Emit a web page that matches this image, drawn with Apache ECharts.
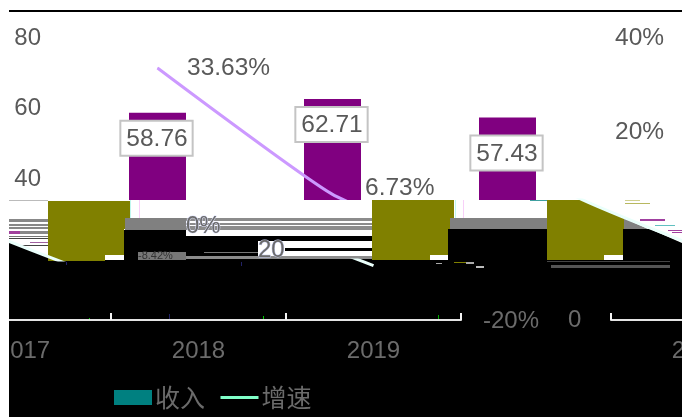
<!DOCTYPE html>
<html>
<head>
<meta charset="utf-8">
<title>收入 增速</title>
<script src="https://cdn.jsdelivr.net/npm/echarts@6/dist/echarts.min.js"></script>
<style>
  html, body { margin: 0; padding: 0; background: #fff; }
  #chart { width: 682px; height: 417px; }
</style>
</head>
<body>
<div id="chart"></div>
<script>
  // data (the 2019 growth value is hidden in the picture, estimated)
  var years = ['2017', '2018', '2019'];
  var income = [58.76, 62.71, 57.43];
  var growth = [33.63, 6.73, -8.42];
  var leftTicks = [0, 20, 40, 60, 80];
  var rightTicks = [-20, 0, 20, 40];

  var plotTop = 38, plotBottom = 320, plotLeft = 70, plotWidth = 525;
  var font = 'Liberation Sans, Arial, sans-serif';
  var textColor = '#595959';
  var rightScale = (plotBottom - plotTop) / 60;

  // the lower part of the picture is a broken render: rows of the chart are shifted sideways
  // and painted over with flat blocks. these are decoration, not chart marks
  var blocks = [
    [9, 200, 673, 60, '#fff'], [9, 260, 673, 157, '#000'],
    // left stripes
    [9, 200, 39, 1, '#bbb'], [9, 219, 39, 3, '#888'], [9, 224, 39, 2, '#888'], [9, 227, 39, 2, '#888'],
    [9, 231, 11, 3, '#a0409c'], [20, 231, 28, 3, '#888'], [9, 236, 39, 1, '#777'], [9, 238, 39, 1, '#444'],
    [30, 242, 18, 1, '#a060a0'], [20, 245, 28, 1, '#444'],
    // block A and what follows it
    [125, 218, 61, 12, '#808080'], [124, 230, 62, 30, '#000'], [138, 252, 66, 8, '#777'],
    // middle stripes
    [186, 218, 186, 3, '#8c8c8c'], [186, 223, 186, 2, '#8c8c8c'], [186, 226, 186, 2, '#8c8c8c'], [186, 228, 186, 2, '#8c8c8c'],
    [186, 236, 186, 5, '#000'], [186, 241, 72, 15, '#000'], [285, 248, 87, 3, '#000'],
    [204, 252, 54, 1, '#777'], [186, 256, 186, 3, '#8c8c8c'], [186, 259, 186, 1, '#000'],
    // block B
    [450, 218, 97, 11, '#808080'], [448, 229, 99, 31, '#000'],
    [463, 200, 1, 18, '#f8d0f8'], [139, 200, 1, 18, '#f8d0f8'], [130, 200, 1, 18, '#c0f8f0'], [455, 200, 1, 18, '#c0f8f0'],
    [530, 200, 35, 1, '#40a0a0'],
    // right side stripes
    [625, 203, 25, 1, '#b8b860'], [625, 200, 15, 1, '#d0d090'], [640, 219, 25, 2, '#a040a0'],
    [655, 225, 20, 1, '#60c0c0'], [668, 230, 14, 1, '#a040a0'], [672, 232, 10, 1, '#a040a0'],
    [547, 261, 123, 1, '#444'], [551, 265, 119, 3, '#555'],
    // specks
    [454, 262, 12, 1, '#808000'], [466, 262, 8, 2, '#aaa'], [476, 266, 8, 2, '#bbb'], [436, 263, 6, 1, '#aaa'],
    [89, 318, 1, 3, '#0c0'], [263, 316, 1, 5, '#0c0'], [438, 315, 1, 6, '#0a0'],
    [169, 314, 1, 7, '#226'], [241, 262, 1, 4, '#226'], [66, 262, 1, 3, '#226']
  ];
  var oliveBlocks = [
    [[48, 201], [130, 201], [130, 218], [125, 218], [125, 229], [124, 229], [124, 255], [105, 255], [105, 261], [48, 261]],
    [[372, 200], [454, 200], [454, 218], [450, 218], [450, 229], [448, 229], [448, 255], [430, 255], [430, 260], [372, 260]],
    [[547, 200], [585, 200], [624, 218], [624, 229], [623, 229], [623, 255], [604, 255], [604, 260], [547, 260]]
  ];
  var otherPolygons = [
    { points: [[9, 241], [60, 261], [9, 261]], fill: '#000' },
    { points: [[624, 218], [650, 230], [624, 230]], fill: '#808080' },
    { points: [[623, 229], [650, 229], [682, 243], [682, 260], [623, 260]], fill: '#000' }
  ];
  // axis labels that ended up in the wrong row
  var strayTexts = [
    ['0%', 186, 226, '#dfe3ff'], ['20', 258, 250, '#c8cdf0'], ['0', 568, 320, '#000'], ['-20%', 483, 321, '#000']
  ];

  function rowAxis(gridIndex, top, bottom) {
    return {
      type: 'value', gridIndex: gridIndex, show: false,
      min: (plotBottom - bottom) / rightScale - 20,
      max: (plotBottom - top) / rightScale - 20
    };
  }

  function catAxis(gridIndex, showIt) {
    return {
      type: 'category', gridIndex: gridIndex, data: years, show: showIt, z: 20,
      axisLine: { onZero: false, lineStyle: { color: '#e4e4e4', width: 2 } },
      axisTick: { show: true, inside: true, length: 7, lineStyle: { color: '#f4f4f4', width: 2 } },
      axisLabel: { fontSize: 24, fontFamily: font, color: '#6b6b6b', margin: 19 }
    };
  }

  // [left, top, bottom] of each grid; 0 is the real chart, the rest are its shifted rows
  var rows = [
    [plotLeft, plotTop, plotBottom],
    [plotLeft - 134, plotTop, plotBottom],
    [plotLeft - 134 + 675, plotTop, plotBottom],
    [plotLeft + 239, 200, 260],
    [plotLeft + 239 - 675, 200, 260],
    [plotLeft - 134, 260, plotBottom]
  ];
  var grids = [], xAxes = [], yAxes = [];
  rows.forEach(function (r, i) {
    grids.push({ left: r[0], top: r[1], width: plotWidth, height: r[2] - r[1], outerBoundsMode: 'none' });
    xAxes.push(catAxis(i, i === 1 || i === 2));
  });

  yAxes.push({
    type: 'value', gridIndex: 0, min: leftTicks[0], max: leftTicks[leftTicks.length - 1], interval: 20,
    splitLine: { show: false }, axisLine: { show: false }, axisTick: { show: false },
    axisLabel: {
      fontSize: 24, fontFamily: font, color: textColor, margin: 29, padding: [2, 0, 0, 0],
      formatter: function (v) { return v >= 40 ? v : ''; }
    }
  });
  yAxes.push({
    type: 'value', gridIndex: 0, position: 'right', min: rightTicks[0], max: rightTicks[rightTicks.length - 1], interval: 20,
    splitLine: { show: false }, axisLine: { show: false }, axisTick: { show: false },
    axisLabel: {
      fontSize: 24.5, fontFamily: font, color: textColor, margin: 20, padding: [2, 0, 0, 0],
      formatter: function (v) { return v >= 20 ? v + '%' : ''; }
    }
  });
  // yAxis index of grid n is n + 1 from here on
  for (var g = 1; g < rows.length; g++) {
    yAxes.push(rowAxis(g, rows[g][1], rows[g][2]));
  }

  var series = [
    {
      name: '收入', type: 'bar', data: income.map(function (v, i) {
        return { value: v, label: { offset: i === 2 ? [-1, 10] : [-1, 0] } };
      }),
      barWidth: 57, z: 2, itemStyle: { color: '#800080' },
      label: {
        show: true, position: 'insideTop', distance: 9, fontSize: 24.5, fontFamily: font, color: textColor,
        backgroundColor: '#fff', borderColor: '#c4c4c4', borderWidth: 2, padding: [5, 4, 3, 5]
      }
    },
    {
      name: '增速', type: 'line', yAxisIndex: 1, smooth: 0.15, z: 3,
      data: growth.map(function (v, i) {
        return { value: v, label: { offset: i === 1 ? [3, -6] : [0, 0] } };
      }),
      symbol: 'circle', symbolSize: 1, itemStyle: { color: '#cc99ff' }, lineStyle: { color: '#cc99ff', width: 3 },
      label: {
        show: true, position: 'right', distance: 29, fontSize: 24.5, fontFamily: font, color: textColor,
        formatter: function (p) { return p.dataIndex < 2 ? p.value + '%' : ''; }
      }
    }
  ];
  [3, 4, 5].forEach(function (g) {
    series.push({
      type: 'line', xAxisIndex: g, yAxisIndex: g + 1, data: growth, smooth: 0.15, z: 15,
      symbol: 'none', lineStyle: { color: '#eafffb', width: 3 }
    });
  });

  var graphic = [];
  blocks.forEach(function (b) {
    graphic.push({ type: 'rect', z: 10, silent: true, shape: { x: b[0], y: b[1], width: b[2], height: b[3] }, style: { fill: b[4] } });
  });
  otherPolygons.forEach(function (p) {
    graphic.push({ type: 'polygon', z: 11, silent: true, shape: { points: p.points }, style: { fill: p.fill } });
  });
  oliveBlocks.forEach(function (points) {
    graphic.push({ type: 'polygon', z: 12, silent: true, shape: { points: points }, style: { fill: '#808000' } });
  });
  strayTexts.forEach(function (t) {
    graphic.push({
      type: 'text', z: 20, silent: true, x: t[1], y: t[2],
      style: { text: t[0], fontSize: 24, fontFamily: font, fill: '#6b6b6b', stroke: t[3], lineWidth: 1, verticalAlign: 'middle' }
    });
  });
  // the label of the last growth point, squeezed into a broken row
  graphic.push({
    type: 'text', z: 20, silent: true, x: 138, y: 256,
    style: { text: '-8.42%', fontSize: 11, fontFamily: font, fill: '#333', verticalAlign: 'middle' }
  });
  // white margin and the black rule at the top
  graphic.push({ type: 'rect', z: 30, silent: true, shape: { x: 0, y: 0, width: 9, height: 417 }, style: { fill: '#fff' } });
  graphic.push({ type: 'rect', z: 30, silent: true, shape: { x: 9, y: 10, width: 673, height: 2 }, style: { fill: '#000' } });

  var myChart = echarts.init(document.getElementById('chart'));
  myChart.setOption({
    animation: false,
    backgroundColor: '#fff',
    legend: {
      z: 25, left: 109, top: 380, itemWidth: 38, itemHeight: 15, itemGap: 14,
      textStyle: { fontSize: 25, fontFamily: 'Noto Sans CJK SC', color: '#6b6b6b', padding: [0, 0, 0, -2] },
      data: [
        { name: '收入', icon: 'rect', itemStyle: { color: '#008080' } },
        { name: '增速', lineStyle: { color: '#80ffc8', width: 3 }, itemStyle: { opacity: 0 } }
      ]
    },
    grid: grids,
    xAxis: xAxes,
    yAxis: yAxes,
    series: series,
    graphic: graphic
  });
</script>
</body>
</html>
